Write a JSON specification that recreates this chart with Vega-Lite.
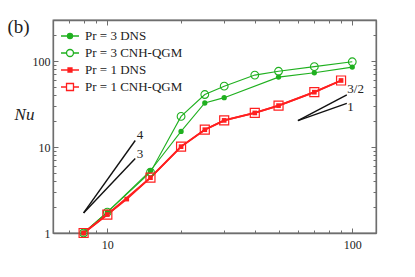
{
  "$schema": "https://vega.github.io/schema/vega-lite/v6.json",
  "autosize": {"type": "none"},
  "width": 323,
  "height": 213,
  "padding": {"left": 53, "top": 20, "right": 39, "bottom": 44},
  "background": "white",
  "config": {
    "view": {"stroke": "#6e6e6e", "strokeWidth": 1.3},
    "font": "Liberation Serif",
    "axis": {"grid": false, "domainColor": "#6e6e6e", "domainWidth": 1.3, "tickColor": "#6e6e6e", "tickWidth": 1, "labelFont": "Liberation Serif", "labelFontSize": 12, "labelColor": "#222", "titleFont": "Liberation Serif"}
  },
  "datasets": {
    "pts": [
      {"series": "Pr = 3 DNS", "x": 8, "Nu": 1},
      {"series": "Pr = 3 DNS", "x": 10, "Nu": 1.75},
      {"series": "Pr = 3 DNS", "x": 15, "Nu": 5.3},
      {"series": "Pr = 3 DNS", "x": 20, "Nu": 15.2},
      {"series": "Pr = 3 DNS", "x": 25, "Nu": 32.5},
      {"series": "Pr = 3 DNS", "x": 30, "Nu": 37.5},
      {"series": "Pr = 3 DNS", "x": 50, "Nu": 65},
      {"series": "Pr = 3 DNS", "x": 70, "Nu": 73},
      {"series": "Pr = 3 DNS", "x": 100, "Nu": 85},
      {"series": "Pr = 3 CNH-QGM", "x": 8, "Nu": 1},
      {"series": "Pr = 3 CNH-QGM", "x": 10, "Nu": 1.75},
      {"series": "Pr = 3 CNH-QGM", "x": 15, "Nu": 5.1},
      {"series": "Pr = 3 CNH-QGM", "x": 20, "Nu": 22.7},
      {"series": "Pr = 3 CNH-QGM", "x": 25, "Nu": 40.8},
      {"series": "Pr = 3 CNH-QGM", "x": 30, "Nu": 51},
      {"series": "Pr = 3 CNH-QGM", "x": 40, "Nu": 68.6},
      {"series": "Pr = 3 CNH-QGM", "x": 50, "Nu": 76},
      {"series": "Pr = 3 CNH-QGM", "x": 70, "Nu": 86},
      {"series": "Pr = 3 CNH-QGM", "x": 100, "Nu": 98},
      {"series": "Pr = 1 DNS", "x": 8, "Nu": 1},
      {"series": "Pr = 1 DNS", "x": 10, "Nu": 1.64},
      {"series": "Pr = 1 DNS", "x": 12, "Nu": 2.48},
      {"series": "Pr = 1 DNS", "x": 15, "Nu": 4.4},
      {"series": "Pr = 1 DNS", "x": 20, "Nu": 10.1},
      {"series": "Pr = 1 DNS", "x": 25, "Nu": 15.9},
      {"series": "Pr = 1 DNS", "x": 30, "Nu": 20.4},
      {"series": "Pr = 1 DNS", "x": 40, "Nu": 24.9},
      {"series": "Pr = 1 DNS", "x": 50, "Nu": 30.3},
      {"series": "Pr = 1 DNS", "x": 70, "Nu": 43.4},
      {"series": "Pr = 1 DNS", "x": 90, "Nu": 59.4},
      {"series": "Pr = 1 CNH-QGM", "x": 8, "Nu": 1},
      {"series": "Pr = 1 CNH-QGM", "x": 10, "Nu": 1.64},
      {"series": "Pr = 1 CNH-QGM", "x": 15, "Nu": 4.4},
      {"series": "Pr = 1 CNH-QGM", "x": 20, "Nu": 10.1},
      {"series": "Pr = 1 CNH-QGM", "x": 25, "Nu": 15.9},
      {"series": "Pr = 1 CNH-QGM", "x": 30, "Nu": 20.4},
      {"series": "Pr = 1 CNH-QGM", "x": 40, "Nu": 24.9},
      {"series": "Pr = 1 CNH-QGM", "x": 50, "Nu": 30.3},
      {"series": "Pr = 1 CNH-QGM", "x": 70, "Nu": 43.4},
      {"series": "Pr = 1 CNH-QGM", "x": 90, "Nu": 59.4}
    ],
    "slopes": [
      {"slope": "4", "x": 8, "Nu": 1.71, "x2": 13, "Nu2": 11.9},
      {"slope": "3", "x": 8, "Nu": 1.71, "x2": 13, "Nu2": 7.34},
      {"slope": "3/2", "x": 60, "Nu": 20.3, "x2": 95, "Nu2": 40.4},
      {"slope": "1", "x": 60, "Nu": 20.3, "x2": 95, "Nu2": 32.1}
    ],
    "slopeLabels": [
      {"text": "4", "x": 13.2, "Nu": 13.9},
      {"text": "3", "x": 13.2, "Nu": 8.26},
      {"text": "3/2", "x": 95.5, "Nu": 46.7},
      {"text": "1", "x": 95.5, "Nu": 29}
    ]
  },
  "resolve": {"axis": {"x": "independent", "y": "independent"}},
  "layer": [
    {
      "data": {"name": "pts"},
      "transform": [{"filter": "indexof(datum.series, 'Pr = 3') == 0"}],
      "mark": {"type": "line", "color": "#1fb01f", "strokeWidth": 1.1},
      "encoding": {
        "x": {"field": "x", "type": "quantitative", "scale": {"type": "log", "domain": [6, 125], "nice": false},
          "axis": {"orient": "bottom", "values": [6, 7, 8, 9, 10, 20, 30, 40, 50, 60, 70, 80, 90, 100], "labelExpr": "datum.value == 10 || datum.value == 100 ? format(datum.value, 'd') : ''", "labelOverlap": false, "labelFlush": false, "tickSize": {"condition": {"test": "datum.value == 10 || datum.value == 100", "value": -5}, "value": -3}, "labelPadding": 11, "title": null}},
        "y": {"field": "Nu", "type": "quantitative", "scale": {"type": "log", "domain": [1, 300], "nice": false},
          "axis": {"orient": "left", "values": [1, 2, 3, 4, 5, 6, 7, 8, 9, 10, 20, 30, 40, 50, 60, 70, 80, 90, 100, 200, 300], "labelExpr": "datum.value == 1 || datum.value == 10 || datum.value == 100 ? format(datum.value, 'd') : ''", "labelOverlap": false, "labelFlush": false, "tickSize": {"condition": {"test": "datum.value == 1 || datum.value == 10 || datum.value == 100", "value": -5}, "value": -3}, "labelPadding": 8, "title": "Nu", "titleFontStyle": "italic", "titleFontWeight": "normal", "titleFontSize": 17, "titleColor": "#222", "titleAngle": 0, "titleAlign": "center", "titleBaseline": "middle", "titleX": -29, "titleY": 94}},
        "detail": {"field": "series"}
      }
    },
    {
      "data": {"name": "pts"},
      "transform": [{"filter": "indexof(datum.series, 'Pr = 1') == 0"}],
      "mark": {"type": "line", "color": "#ff1f1f", "strokeWidth": 1.8},
      "encoding": {
        "x": {"field": "x", "type": "quantitative", "axis": null},
        "y": {"field": "Nu", "type": "quantitative", "axis": null},
        "detail": {"field": "series"}
      }
    },
    {
      "data": {"name": "slopes"},
      "mark": {"type": "rule", "color": "#111", "strokeWidth": 1.4},
      "encoding": {
        "x": {"field": "x", "type": "quantitative",
          "axis": {"orient": "top", "values": [6, 7, 8, 9, 10, 20, 30, 40, 50, 60, 70, 80, 90, 100], "labels": false, "tickSize": {"condition": {"test": "datum.value == 10 || datum.value == 100", "value": -5}, "value": -3}, "title": "(b)", "titleFontSize": 19, "titleFontWeight": "normal", "titleColor": "#222", "titleAngle": 0, "titleAlign": "left", "titleBaseline": "middle", "titleX": -46, "titleY": 6}},
        "y": {"field": "Nu", "type": "quantitative",
          "axis": {"orient": "right", "values": [1, 2, 3, 4, 5, 6, 7, 8, 9, 10, 20, 30, 40, 50, 60, 70, 80, 90, 100, 200, 300], "labels": false, "tickSize": {"condition": {"test": "datum.value == 1 || datum.value == 10 || datum.value == 100", "value": -5}, "value": -3}, "title": null}},
        "x2": {"field": "x2"},
        "y2": {"field": "Nu2"}
      }
    },
    {
      "data": {"name": "slopeLabels"},
      "mark": {"type": "text", "align": "left", "baseline": "middle", "fontSize": 13, "font": "Liberation Serif", "color": "#222"},
      "encoding": {
        "x": {"field": "x", "type": "quantitative", "axis": null},
        "y": {"field": "Nu", "type": "quantitative", "axis": null},
        "text": {"field": "text"}
      }
    },
    {
      "data": {"name": "pts"},
      "transform": [{"filter": "datum.series == 'Pr = 3 CNH-QGM'"}],
      "mark": {"type": "point", "shape": "circle", "filled": false, "color": "#1fb01f", "strokeWidth": 1.1, "size": 60, "opacity": 1},
      "encoding": {
        "x": {"field": "x", "type": "quantitative", "axis": null},
        "y": {"field": "Nu", "type": "quantitative", "axis": null}
      }
    },
    {
      "data": {"name": "pts"},
      "transform": [{"filter": "datum.series == 'Pr = 3 DNS'"}],
      "mark": {"type": "point", "shape": "circle", "filled": true, "color": "#1fb01f", "size": 28, "opacity": 1},
      "encoding": {
        "x": {"field": "x", "type": "quantitative", "axis": null},
        "y": {"field": "Nu", "type": "quantitative", "axis": null}
      }
    },
    {
      "data": {"name": "pts"},
      "transform": [{"filter": "datum.series == 'Pr = 1 CNH-QGM'"}],
      "mark": {"type": "point", "shape": "square", "filled": false, "color": "#ff1f1f", "strokeWidth": 1.2, "size": 81, "opacity": 1},
      "encoding": {
        "x": {"field": "x", "type": "quantitative", "axis": null},
        "y": {"field": "Nu", "type": "quantitative", "axis": null}
      }
    },
    {
      "data": {"name": "pts"},
      "transform": [{"filter": "datum.series == 'Pr = 1 DNS'"}],
      "mark": {"type": "point", "shape": "square", "filled": true, "color": "#ff1f1f", "size": 22, "opacity": 1},
      "encoding": {
        "x": {"field": "x", "type": "quantitative", "axis": null},
        "y": {"field": "Nu", "type": "quantitative", "axis": null}
      }
    },
    {
      "data": {"name": "pts"},
      "transform": [{"filter": "false"}],
      "mark": {"type": "point", "opacity": 1, "strokeWidth": 1.3, "size": 144},
      "encoding": {
        "x": {"field": "x", "type": "quantitative", "axis": null},
        "y": {"field": "Nu", "type": "quantitative", "axis": null},
        "shape": {"field": "series", "type": "nominal",
          "scale": {"domain": ["Pr = 3 DNS", "Pr = 3 CNH-QGM", "Pr = 1 DNS", "Pr = 1 CNH-QGM"],
            "range": [
              "M-1.5,0H1.5M-0.42,0A0.42,0.42,0,1,0,0.42,0A0.42,0.42,0,1,0,-0.42,0Z",
              "M-1.5,0H-0.58M0.58,0H1.5M-0.58,0A0.58,0.58,0,1,0,0.58,0A0.58,0.58,0,1,0,-0.58,0Z",
              "M-1.5,0H1.5M-0.33,-0.33H0.33V0.33H-0.33Z",
              "M-1.5,0H-0.58M0.58,0H1.5M-0.58,-0.58H0.58V0.58H-0.58Z"
            ]},
          "legend": {"title": null, "orient": "none", "legendX": 10, "legendY": 9, "padding": 0, "labelFont": "Liberation Serif", "labelFontSize": 13, "labelColor": "#222", "labelOffset": 8, "rowPadding": 3, "symbolSize": 144, "symbolStrokeWidth": 1.3}},
        "stroke": {"field": "series", "type": "nominal",
          "scale": {"domain": ["Pr = 3 DNS", "Pr = 3 CNH-QGM", "Pr = 1 DNS", "Pr = 1 CNH-QGM"], "range": ["#1fb01f", "#1fb01f", "#ff1f1f", "#ff1f1f"]},
          "legend": {"title": null}},
        "fill": {"field": "series", "type": "nominal",
          "scale": {"domain": ["Pr = 3 DNS", "Pr = 3 CNH-QGM", "Pr = 1 DNS", "Pr = 1 CNH-QGM"], "range": ["#1fb01f", "#ffffff", "#ff1f1f", "#ffffff"]},
          "legend": {"title": null}}
      }
    }
  ]
}
